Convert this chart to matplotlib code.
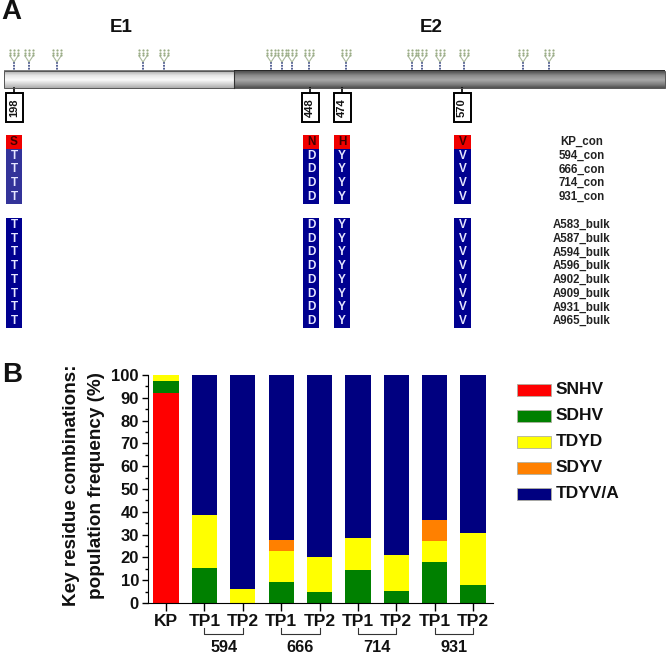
import numpy as np
import matplotlib
matplotlib.use('Agg')
import matplotlib.pyplot as plt
from matplotlib.patches import Rectangle

plt.rcParams['font.family'] = ['Liberation Sans', 'DejaVu Sans']

# panel B values (% of population)
bar_labels = ['KP', 'TP1', 'TP2', 'TP1', 'TP2', 'TP1', 'TP2', 'TP1', 'TP2']
snhv = [92, 0, 0, 0, 0, 0, 0, 0, 0]
sdhv = [5.3, 15.5, 0, 9, 5, 14.3, 5.3, 18.1, 7.7]
tdyd = [2.7, 23, 6, 14, 15, 14.2, 15.7, 9.1, 23]
sdyv = [0, 0, 0, 4.5, 0, 0, 0, 9.1, 0]
tdyv = [0, 61.5, 94, 72.5, 80, 71.5, 79, 63.7, 69.3]
series_names = ['SNHV', 'SDHV', 'TDYD', 'SDYV', 'TDYV/A']
series_colors = ['#ff0000', '#008000', '#ffff00', '#ff8000', '#000080']
patient_groups = ['594', '666', '714', '931']

# panel A, positions along the schematic
glycan_sites = [14, 29, 57, 143, 164, 271, 282, 292, 309, 346, 412, 422, 440, 464, 523, 549]
residues = ['198', '448', '474', '570']
residue_pos = [14, 310, 342, 462]
con_labels = ['KP_con', '594_con', '666_con', '714_con', '931_con']
bulk_labels = ['A583_bulk', 'A587_bulk', 'A594_bulk', 'A596_bulk',
               'A902_bulk', 'A909_bulk', 'A931_bulk', 'A965_bulk']
kp_letters = ['S', 'N', 'H', 'V']
other_letters = ['T', 'D', 'Y', 'V']

fig = plt.figure(figsize=(6.66, 6.58), dpi=100)

# full figure axes in pixels for the schematic
bg = fig.add_axes([0, 0, 1, 1])
bg.set_xlim(0, 666)
bg.set_ylim(658, 0)
bg.axis('off')

bg.text(1, 12, 'A', fontsize=20, fontweight='bold', va='center', ha='left', color='#111111')
bg.text(2, 375, 'B', fontsize=20, fontweight='bold', va='center', ha='left', color='#111111')
bg.text(121, 27, 'E1', fontsize=13.5, fontweight='bold', va='center', ha='center', color='#111111')
bg.text(431, 27, 'E2', fontsize=13.5, fontweight='bold', va='center', ha='center', color='#111111')

# gradient bars for E1 / E2
pos = np.array([0, 0.1, 0.3, 0.55, 0.8, 1.0])
e1_grey = np.array([0.45, 0.72, 0.9, 0.98, 0.82, 0.68])
e2_grey = np.array([0.12, 0.35, 0.55, 0.66, 0.5, 0.32])
t = np.linspace(0, 1, 40)
bg.imshow(np.interp(t, pos, e1_grey)[:, None], cmap='gray', vmin=0, vmax=1, aspect='auto',
          extent=(4, 234, 88, 70.5), zorder=2)
bg.imshow(np.interp(t, pos, e2_grey)[:, None], cmap='gray', vmin=0, vmax=1, aspect='auto',
          extent=(234, 665, 88, 70.5), zorder=2)
bg.set_xlim(0, 666)
bg.set_ylim(658, 0)
bg.add_patch(Rectangle((4, 70.5), 661, 17.5, fill=False, ec='#555555', lw=0.7, zorder=3))
bg.plot([234, 234], [70.5, 88], color='#333333', lw=0.8, zorder=3)

# glycan trees
for x in glycan_sites:
    bg.plot([x, x], [62, 70], color='#46548c', lw=1.3, ls=(0, (1, 0.6)), zorder=1)
    bg.plot([x - 4, x, x + 4], [56, 62, 56], color='#a9b89a', lw=0.8, zorder=1)
    for dx in (-4, 0, 4):
        bg.plot([x + dx] * 3, [50, 52.7, 55.4], ls='none', marker='o', ms=1.6,
                color='#9aac86', mew=0, zorder=1)

# residue flags
for name, x in zip(residues, residue_pos):
    bg.plot([x, x], [88, 93], color='black', lw=1.2)
    bg.add_patch(Rectangle((x - 8.5, 93), 17, 29, fc='white', ec='black', lw=1.4))
    bg.text(x, 107.5, name, rotation=90, fontsize=8, fontweight='bold',
            ha='center', va='center', color='#111111')

# alignment columns
col_left = [6, 303, 334, 454]
col_w = [16, 16, 16, 17]
row_h = 13.75
for j, (x0, w) in enumerate(zip(col_left, col_w)):
    top = 135
    for i in range(len(con_labels)):
        if i == 0:
            fc, tc, s = '#f00000', '#400000', kp_letters[j]
        else:
            fc = '#333399' if j == 0 else '#000090'
            tc, s = '#e6e6ff', other_letters[j]
        y = top + i * row_h
        bg.add_patch(Rectangle((x0, y), w, row_h, fc=fc, ec='none'))
        bg.text(x0 + w / 2, y + row_h / 2, s, fontsize=8.5, fontweight='bold',
                ha='center', va='center', color=tc)
    top = 218
    for i in range(len(bulk_labels)):
        y = top + i * row_h
        bg.add_patch(Rectangle((x0, y), w, row_h, fc='#000090', ec='none'))
        bg.text(x0 + w / 2, y + row_h / 2, other_letters[j], fontsize=8.5, fontweight='bold',
                ha='center', va='center', color='#e6e6ff')

for i, lab in enumerate(con_labels):
    bg.text(582, 142 + i * row_h, lab, fontsize=8.3, fontweight='bold',
            ha='center', va='center', color='#222222')
for i, lab in enumerate(bulk_labels):
    bg.text(582, 225 + i * row_h, lab, fontsize=8.3, fontweight='bold',
            ha='center', va='center', color='#222222')

# legend, drawn by hand to keep the spacing of the original
for i, (name, col) in enumerate(zip(series_names, series_colors)):
    y = 384 + i * 26
    bg.add_patch(Rectangle((517, y), 34, 12, fc=col, ec='#b0b0a0', lw=0.6))
    bg.text(556, y + 6, name, fontsize=12.5, fontweight='bold', ha='left', va='center',
            color='#111111')

# panel B stacked bars
ax = fig.add_axes([148 / 666, 1 - 603 / 658, 345 / 666, 228 / 658])
x = np.arange(len(bar_labels))
bottom = np.zeros(len(bar_labels))
for vals, name, col in zip([snhv, sdhv, tdyd, sdyv, tdyv], series_names, series_colors):
    ax.bar(x, vals, width=0.66, bottom=bottom, color=col, label=name)
    bottom += np.array(vals)

ax.set_xlim(-0.47, 8.52)
ax.set_ylim(0, 100)
ax.set_yticks(np.arange(0, 101, 10))
ax.set_yticks(np.arange(5, 100, 10), minor=True)
ax.set_xticks(x)
ax.set_xticklabels(bar_labels, fontsize=12.5, fontweight='bold', color='#111111')
ax.tick_params(axis='y', labelsize=12, width=1, length=4.5, pad=2, labelcolor='#111111')
ax.tick_params(axis='y', which='minor', width=1, length=2.5)
ax.tick_params(axis='x', width=1, length=6, pad=2)
for lab in ax.get_yticklabels():
    lab.set_fontweight('bold')
for side in ('top', 'right'):
    ax.spines[side].set_visible(False)
ax.set_ylabel('Key residue combinations:\npopulation frequency (%)', fontsize=13.6,
              fontweight='bold', labelpad=5, linespacing=1.55, color='#111111', y=0.515)

# brackets under the TP pairs
trans = ax.get_xaxis_transform()
for k, group in enumerate(patient_groups):
    x1, x2 = 1 + 2 * k, 2 + 2 * k
    ax.plot([x1, x1, x2, x2], [-0.11, -0.136, -0.136, -0.11], transform=trans, color='#333333',
            lw=0.8, clip_on=False)
    ax.text((x1 + x2) / 2, -0.193, group, transform=trans, fontsize=11.7, fontweight='bold',
            ha='center', va='center', color='#111111')

fig.savefig('out.png', dpi=100)
